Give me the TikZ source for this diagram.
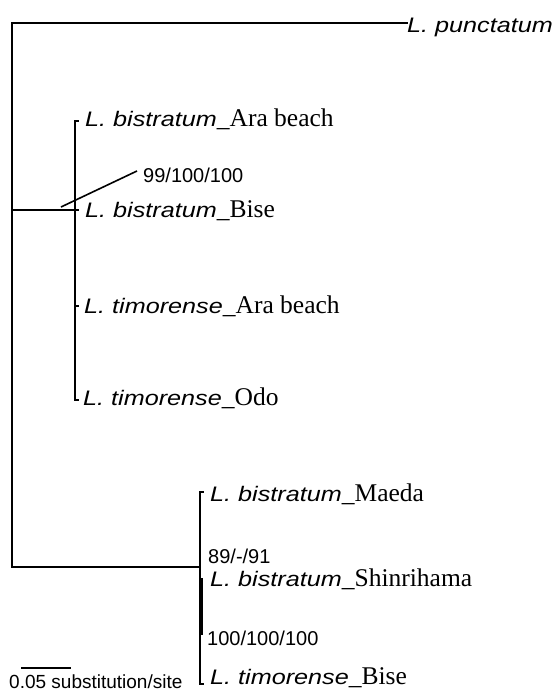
\documentclass[tikz,border=0pt]{standalone}
\usepackage{fontspec}
\newfontfamily\taxsans[FakeStretch=1.2]{Liberation Sans}
\newfontfamily\taxserif{Liberation Serif}
\newfontfamily\numsans{Liberation Sans}
% species name in italic sans, locality in roman serif
\newcommand\taxon[2]{{\fontsize{21}{24}\taxsans\itshape #1}{\fontsize{25.5}{28}\taxserif\_#2}}
\newcommand\taxonly[1]{{\fontsize{21}{24}\taxsans\itshape #1}}
\begin{document}
\begin{tikzpicture}[x=1pt,y=-1pt,
  branch/.style={line width=1.8pt,line cap=rect},
  tiplabel/.style={anchor=base west,inner sep=0pt,text=black},
  support/.style={anchor=base west,inner sep=0pt,font=\fontsize{20}{22}\numsans}]
\useasboundingbox (0,0) rectangle (558,693);

% internal nodes
\coordinate (rtop) at (12,23);
\coordinate (rmid) at (12,210);
\coordinate (rbot) at (12,567);
\coordinate (uA) at (75,210);
\coordinate (uT) at (75,121);
\coordinate (uB) at (75,400);
\coordinate (lA) at (200,567);
\coordinate (lT) at (200,492);
\coordinate (lB) at (200,684);
\coordinate (iT) at (202,578);
\coordinate (iB) at (202,635);

% tip labels
\node[tiplabel] (pun) at (407,33) {\taxonly{L. punctatum}};
\node[tiplabel] (bAra) at (85,126) {\taxon{L. bistratum}{Ara beach}};
\node[tiplabel] (bBis) at (85,217) {\taxon{L. bistratum}{Bise}};
\node[tiplabel] (tAra) at (84,313) {\taxon{L. timorense}{Ara beach}};
\node[tiplabel] (tOdo) at (83,405) {\taxon{L. timorense}{Odo}};
\node[tiplabel] (bMae) at (210,501) {\taxon{L. bistratum}{Maeda}};
\node[tiplabel] (bShi) at (210,586) {\taxon{L. bistratum}{Shinrihama}};
\node[tiplabel] (tBis) at (210,684) {\taxon{L. timorense}{Bise}};

% support values
\node[support] (s99) at (143,182) {99/100/100};
\node[support] (s89) at (208,563) {89/-/91};
\node[support] (s100) at (207,645) {100/100/100};

% branches
\draw[branch] (rbot) -- (rtop) -- (rtop -| pun.west);
\draw[branch] (rmid) -- (uA);
\draw[branch] (uT) -- (uB);
\draw[branch] (rbot) -- (lA);
\draw[branch] (lT) -- (lB);
\draw[line width=2.8pt] (iT) -- (iB);

% short terminal branches
\draw[branch] (uT) -- ++(3,0);
\draw[branch] (uA) -- ++(3,0);
\draw[branch] (75,306) -- ++(3,0);
\draw[branch] (uB) -- ++(3,0);
\draw[branch] (lT) -- ++(3,0);
\draw[branch] (lB) -- ++(3,0);

% leader to the support value of the upper clade
\coordinate (ldr0) at (61,207);
\coordinate (ldr1) at (137,171);
\draw[line width=1.6pt] (ldr0) -- (ldr1);

% scale bar
\coordinate (sb0) at (21,668);
\coordinate (sb1) at (71,668);
\draw[line width=1.5pt] (sb0) -- (sb1);
\node[anchor=base west,inner sep=0pt,font=\fontsize{19}{21}\numsans] (sbl) at (9,688) {0.05 substitution/site};
\end{tikzpicture}
\end{document}
